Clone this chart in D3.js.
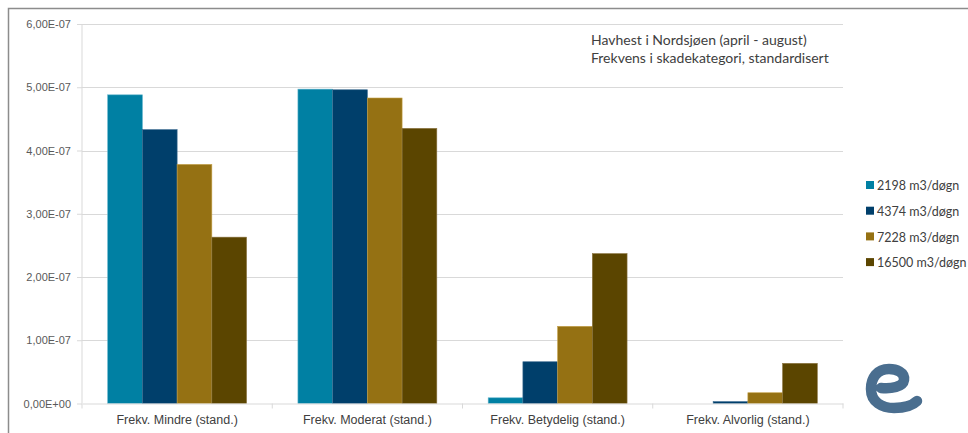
<!DOCTYPE html>
<html>
<head>
<meta charset="utf-8">
<script src="https://cdn.jsdelivr.net/npm/d3@7"></script>
<style>
  body { margin: 0; background: #fff; }
  svg { display: block; font-family: Lato, "Open Sans", sans-serif; }
</style>
</head>
<body>
<svg id="chart" width="968" height="433"></svg>
<script>
// data
let categories = ["Frekv. Mindre (stand.)", "Frekv. Moderat (stand.)", "Frekv. Betydelig (stand.)", "Frekv. Alvorlig (stand.)"];
let seriesNames = ["2198 m3/døgn", "4374 m3/døgn", "7228 m3/døgn", "16500 m3/døgn"];
let s2198 = [4.88e-7, 4.97e-7, 0.09e-7, 0];
let s4374 = [4.33e-7, 4.96e-7, 0.66e-7, 0.03e-7];
let s7228 = [3.78e-7, 4.83e-7, 1.22e-7, 0.17e-7];
let s16500 = [2.63e-7, 4.35e-7, 2.37e-7, 0.635e-7];
let yTicks = [0, 1e-7, 2e-7, 3e-7, 4e-7, 5e-7, 6e-7];
let titleLines = ["Havhest i Nordsjøen (april - august)", "Frekvens i skadekategori, standardisert"];

let colors = ["#0080a3", "#003f6b", "#957113", "#5b4500"];
let edges = ["#5fb3cc", "#3a6a90", "#c4a048", "#8a7340"];

let margin = ({top: 24, right: 125, bottom: 29.5, left: 82});
let width = 968, height = 433;

const svg = d3.select("#chart");

// outer frame
svg.append("path")
   .attr("d", "M8.5,433 V8.5 H968")
   .attr("fill", "none")
   .attr("stroke", "#8c8c8c")
   .attr("stroke-width", 1.5);

let x0 = d3.scaleBand()
           .domain(categories)
           .range([margin.left, width - margin.right])
           .paddingInner(0.27)
           .paddingOuter(0.135);

let x1 = d3.scaleBand()
           .domain(seriesNames)
           .range([0, x0.bandwidth()]);

let y = d3.scaleLinear()
          .domain([0, 6e-7])
          .range([height - margin.bottom, margin.top]);

// grid
svg.append("g")
   .selectAll("line")
   .data(yTicks.slice(1))
   .join("line")
   .attr("x1", margin.left)
   .attr("x2", width - margin.right)
   .attr("y1", d => Math.round(y(d)) + 0.5)
   .attr("y2", d => Math.round(y(d)) + 0.5)
   .attr("stroke", "#d9d9d9")
   .attr("stroke-width", 1);

// y axis
const fmt = d => d3.format(".2e")(d).replace(".", ",").replace(/e([+-])(\d)$/, "E$10$2").toUpperCase();
const yAxis = svg.append("g")
   .attr("transform", `translate(${margin.left},0)`)
   .call(d3.axisLeft(y).tickValues(yTicks).tickFormat(fmt).tickSize(5).tickPadding(6));
yAxis.select(".domain").attr("stroke", "#d9d9d9").attr("d", `M0,${y(6e-7)}V${y(0)}`);
yAxis.selectAll(".tick line").attr("stroke", "#d9d9d9");
yAxis.selectAll("text").attr("fill", "#595959").style("font-size", "11px");

// bars
let seriesData = [s2198, s4374, s7228, s16500];
const groups = svg.append("g")
   .selectAll("g")
   .data(categories)
   .join("g")
   .attr("transform", d => `translate(${x0(d)},0)`);

groups.selectAll("rect")
   .data((c, ci) => seriesNames.map((s, si) => ({s, si, v: seriesData[si][ci]})))
   .join("rect")
   .filter(d => d.v > 0)
   .attr("x", d => x1(d.s))
   .attr("width", x1.bandwidth())
   .attr("y", d => y(d.v))
   .attr("height", d => y(0) - y(d.v))
   .attr("fill", d => colors[d.si])
   .attr("stroke", d => edges[d.si])
   .attr("stroke-width", 0.6);

// x axis
const xAxis = svg.append("g")
   .attr("transform", `translate(0,${y(0)})`)
   .call(d3.axisBottom(x0).tickSize(0).tickPadding(12));
xAxis.select(".domain").attr("stroke", "#d9d9d9");
xAxis.selectAll("text").attr("fill", "#404040").style("font-size", "12.5px");
svg.append("g")
   .selectAll("line")
   .data(d3.range(categories.length + 1))
   .join("line")
   .attr("x1", i => margin.left + i * x0.step())
   .attr("x2", i => margin.left + i * x0.step())
   .attr("y1", y(0))
   .attr("y2", y(0) + 5)
   .attr("stroke", "#d9d9d9");

// title
svg.append("g")
   .selectAll("text")
   .data(titleLines)
   .join("text")
   .attr("x", 591)
   .attr("y", (d, i) => 45 + i * 18)
   .attr("fill", "#404040")
   .style("font-size", "14px")
   .text(d => d);

// legend
const legend = svg.append("g")
   .selectAll("g")
   .data(seriesNames)
   .join("g")
   .attr("transform", (d, i) => `translate(866,${186 + i * 25.7})`);
legend.append("rect")
   .attr("x", 0).attr("y", -5)
   .attr("width", 8).attr("height", 8)
   .attr("fill", (d, i) => colors[i]);
legend.append("text")
   .attr("x", 11)
   .attr("y", 0)
   .attr("dy", "0.35em")
   .attr("fill", "#404040")
   .style("font-size", "12.5px")
   .text(d => d);

// logo
svg.append("path")
   .attr("d", "M881,388 C891,389 903,387 904,380 C905,372 896,369 889,369 C877,369 871,378 871,389 C871,402 882,408 894,408 C905,408 913,405 917,401")
   .attr("fill", "none")
   .attr("stroke", "#4a6e8f")
   .attr("stroke-width", 10.5)
   .attr("stroke-linecap", "round");
</script>
</body>
</html>
